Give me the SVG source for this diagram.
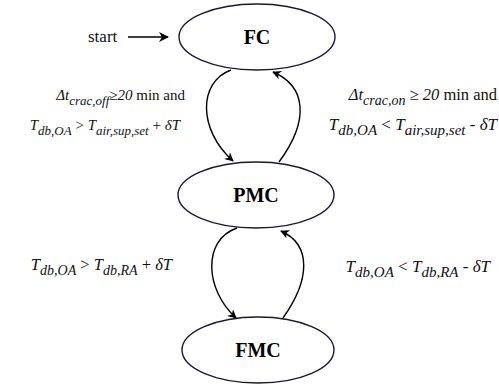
<svg xmlns="http://www.w3.org/2000/svg" width="499" height="385" viewBox="0 0 499 385">
<defs>
<style>
.node ellipse{fill:#fff;stroke:#1a1a2e;stroke-width:1.4}
.node text{font-family:"Liberation Serif","Times New Roman",serif;font-weight:bold;font-size:20px;text-anchor:middle;fill:#000}
.edge{fill:none;stroke:#000;stroke-width:1.4}
.lbl{font-family:"Liberation Serif","Times New Roman",serif;font-size:17px;fill:#111}
.lbl.l1{font-size:16.5px}
.lbl.l2{font-size:15px}
.it{font-style:italic}
.sub{font-style:italic;font-size:15px}
.l1 .sub{font-size:14px}
.l2 .sub{font-size:13px}
.st{font-family:"Liberation Serif","Times New Roman",serif;font-size:17px;fill:#111}
</style>
<marker id="ah" viewBox="0 0 10 10" refX="9" refY="5" markerWidth="10" markerHeight="9" orient="auto" markerUnits="userSpaceOnUse">
<path d="M0,0 L10,5 L0,10 L3,5 Z" fill="#000"/>
</marker>
<marker id="ahs" viewBox="0 0 10 10" refX="9" refY="5" markerWidth="13" markerHeight="10" orient="auto" markerUnits="userSpaceOnUse">
<path d="M0,0 L10,5 L0,10 L3,5 Z" fill="#000"/>
</marker>
</defs>
<rect width="499" height="385" fill="#fff"/>
<g id="start">
<text class="st" x="88" y="42">start</text>
</g>
<g id="FC" class="node">
<ellipse cx="257" cy="37" rx="78" ry="33"/>
<text x="257" y="44">FC</text>
</g>
<g id="PMC" class="node">
<ellipse cx="256" cy="195" rx="78" ry="33"/>
<text x="256" y="202">PMC</text>
</g>
<g id="FMC" class="node">
<ellipse cx="258" cy="350" rx="76" ry="33"/>
<text x="258" y="357">FMC</text>
</g>
<g id="connectors">
<path class="edge" d="M128,37 L168,37" marker-end="url(#ahs)"/>
<path class="edge" d="M231,70 C198,82 198,130 233,161" marker-end="url(#ah)"/>
<path class="edge" d="M279,162 C310,120 306,86 273,72" marker-end="url(#ah)"/>
<path class="edge" d="M237,228 C202,240 205,290 236,318" marker-end="url(#ah)"/>
<path class="edge" d="M283,318 C310,280 312,245 281,231" marker-end="url(#ah)"/>
</g>
<g id="labels">
<text class="lbl l2" x="185" y="100" text-anchor="end"><tspan class="it">Δt</tspan><tspan class="sub" dy="5">crac,off</tspan><tspan dy="-5">≥</tspan><tspan class="it">20</tspan> min and</text>
<text class="lbl l2" x="180" y="130" text-anchor="end"><tspan class="it">T</tspan><tspan class="sub" dy="5">db,OA</tspan><tspan dy="-5"> &gt; </tspan><tspan class="it">T</tspan><tspan class="sub" dy="5">air,sup,set</tspan><tspan dy="-5"> + </tspan><tspan class="it">δT</tspan></text>
<text class="lbl l1" x="497" y="100" text-anchor="end"><tspan class="it">Δt</tspan><tspan class="sub" dy="5">crac,on</tspan><tspan dy="-5"> ≥ </tspan><tspan class="it">20</tspan> min and</text>
<text class="lbl" x="497" y="130" text-anchor="end"><tspan class="it">T</tspan><tspan class="sub" dy="5">db,OA</tspan><tspan dy="-5"> &lt; </tspan><tspan class="it">T</tspan><tspan class="sub" dy="5">air,sup,set</tspan><tspan dy="-5"> - </tspan><tspan class="it">δT</tspan></text>
<text class="lbl l1" x="172" y="270" text-anchor="end"><tspan class="it">T</tspan><tspan class="sub" dy="5">db,OA</tspan><tspan dy="-5"> &gt; </tspan><tspan class="it">T</tspan><tspan class="sub" dy="5">db,RA</tspan><tspan dy="-5"> + </tspan><tspan class="it">δT</tspan></text>
<text class="lbl" x="490" y="272" text-anchor="end"><tspan class="it">T</tspan><tspan class="sub" dy="5">db,OA</tspan><tspan dy="-5"> &lt; </tspan><tspan class="it">T</tspan><tspan class="sub" dy="5">db,RA</tspan><tspan dy="-5"> - </tspan><tspan class="it">δT</tspan></text>
</g>
</svg>
